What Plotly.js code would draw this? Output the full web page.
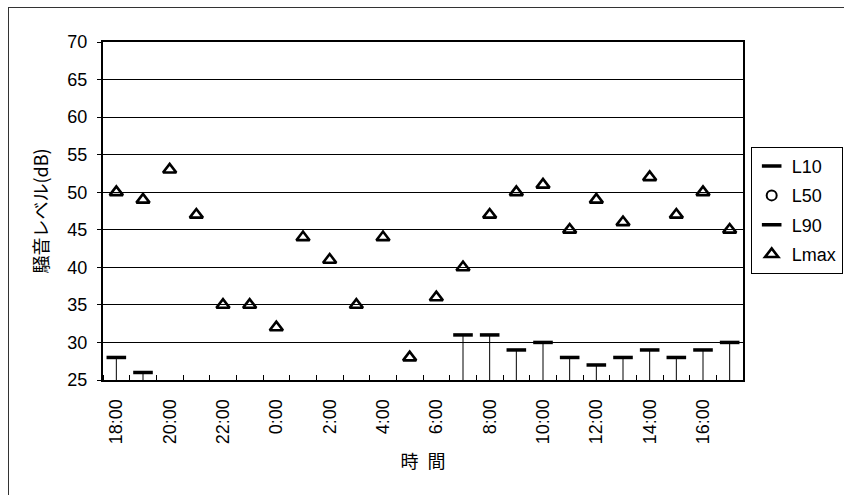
<!DOCTYPE html>
<html><head><meta charset="utf-8">
<script src="https://cdn.plot.ly/plotly-3.0.1.min.js"></script>
<style>
html,body{margin:0;padding:0;background:#fff;overflow:hidden}
#chart{width:844px;height:495px}
#frame{position:absolute;left:8px;top:7px;width:900px;height:600px;border-left:1.5px solid #333;border-top:1.5px solid #333;pointer-events:none}
</style>
</head><body>
<div id="chart"></div><div id="frame"></div>
<script>
// categories (hourly, 18:00 -> 17:00)
const hours = ['18:00','19:00','20:00','21:00','22:00','23:00','0:00','1:00','2:00','3:00','4:00','5:00',
               '6:00','7:00','8:00','9:00','10:00','11:00','12:00','13:00','14:00','15:00','16:00','17:00'];
// tick labels shown every 2 hours
const tickLabels = ['18:00','20:00','22:00','0:00','2:00','4:00','6:00','8:00','10:00','12:00','14:00','16:00'];
// series (dB); values below the 25 dB axis floor are not visible -> null
const L10  = [28,26,null,null,null,null,null,null,null,null,null,null,null,31,31,29,30,28,27,28,29,28,29,30];
const L50  = [null,null,null,null,null,null,null,null,null,null,null,null,null,null,null,null,null,null,null,null,null,null,null,null];
const L90  = [null,null,null,null,null,null,null,null,null,null,null,null,null,null,null,null,null,null,null,null,null,null,null,null];
const Lmax = [50,49,53,47,35,35,32,44,41,35,44,28,36,40,47,50,51,45,49,46,52,47,50,45];

const Y_MIN = 25, Y_MAX = 70;
const xIdx = hours.map((_, i) => i);
const tickIdx = tickLabels.map(t => hours.indexOf(t));
// hi-lo line from L10 down past the axis floor (L90 lies below the visible range)
const dropBelow = 0.7;
const hiLoMinus = L10.map(v => v == null ? null : v - (Y_MIN - dropBelow));

const font = {family: 'Liberation Sans, Arial, "Noto Sans CJK JP", sans-serif', size: 18, color: '#000'};
const cjk  = {family: '"Noto Sans CJK JP", "Liberation Sans", sans-serif', size: 18, color: '#000'};

const traces = [
  {name: 'L10', x: xIdx, y: L10, type: 'scatter', mode: 'markers', cliponaxis: false, legendgroup: 'a',
   marker: {symbol: 'line-ew', size: 14, color: '#000', line: {color: '#000', width: 3.5}},
   error_y: {type: 'data', symmetric: false, array: L10.map(v => v == null ? null : 0), arrayminus: hiLoMinus,
             width: 0, thickness: 1, color: '#000'}},
  {name: 'L50', x: xIdx, y: L50, type: 'scatter', mode: 'markers', legendgroup: 'b',
   marker: {symbol: 'circle-open', size: 10, color: '#000', line: {color: '#000', width: 2}}},
  {name: 'L90', x: xIdx, y: L90, type: 'scatter', mode: 'markers', legendgroup: 'c',
   marker: {symbol: 'line-ew', size: 14, color: '#000', line: {color: '#000', width: 3.5}}},
  {name: 'Lmax', x: xIdx, y: Lmax, type: 'scatter', mode: 'markers', legendgroup: 'd',
   marker: {symbol: 'triangle-up-open', size: 11.5, color: '#000', line: {color: '#000', width: 2.6}}}
];

const layout = {
  width: 844, height: 495,
  margin: {l: 103, r: 101, t: 42, b: 115, autoexpand: false},
  paper_bgcolor: '#fff', plot_bgcolor: '#fff',
  font: font,
  showlegend: true,
  legend: {x: 1.012, y: 0.69, xanchor: 'left', yanchor: 'top', bordercolor: '#000', borderwidth: 1,
           bgcolor: '#fff', font: font, tracegroupgap: 3, traceorder: 'grouped', itemwidth: 30},
  xaxis: {
    range: [-0.5, hours.length - 0.5], tickmode: 'array', tickvals: tickIdx, ticktext: tickLabels,
    tickangle: -90, ticks: '', ticklabelstandoff: 10, showgrid: false, zeroline: false,
    showline: true, linecolor: '#000', linewidth: 2, mirror: true, tickfont: font,
    minor: {tickmode: 'linear', tick0: -0.5, dtick: 1, ticks: 'inside', ticklen: 5, tickcolor: '#000', tickwidth: 1, showgrid: false},
    title: {text: '時\u2002間', font: cjk, standoff: 12}
  },
  yaxis: {
    range: [Y_MIN, Y_MAX], dtick: 5, tick0: 25, ticks: 'outside', ticklen: 4, tickcolor: '#000',
    showgrid: true, gridcolor: '#000', gridwidth: 1, zeroline: false,
    showline: true, linecolor: '#000', linewidth: 2, mirror: true, tickfont: font, ticklabelstandoff: 6,
    title: {text: '騒音レベル(dB)', font: cjk, standoff: 14}
  }
};

Plotly.newPlot('chart', traces, layout, {displayModeBar: false, staticPlot: true});
</script>
</body></html>
